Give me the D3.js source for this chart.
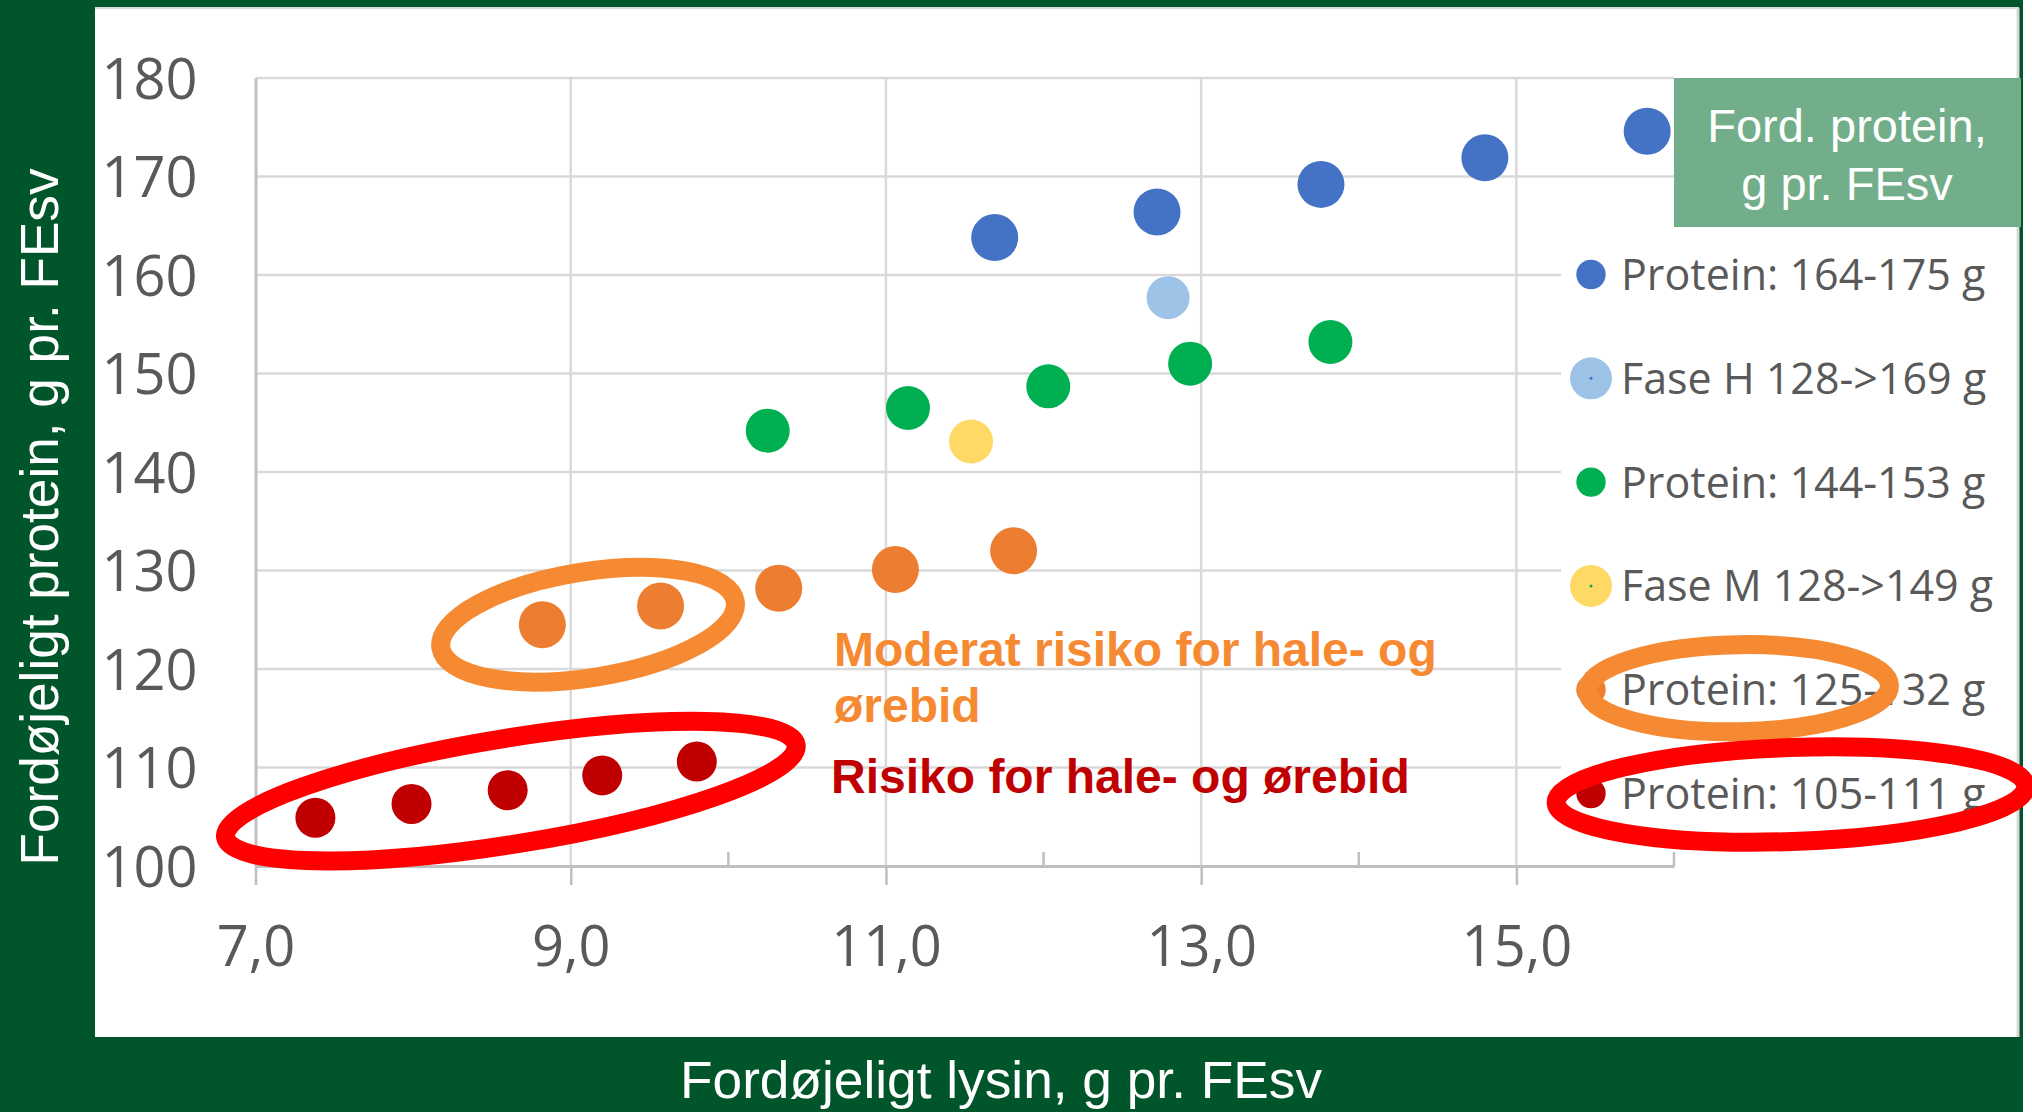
<!DOCTYPE html>
<html><head><meta charset="utf-8">
<script src="https://cdn.jsdelivr.net/npm/d3@7"></script>
<style>html,body{margin:0;padding:0;background:#fff;overflow:hidden}</style>
</head><body><svg id="c" width="2032" height="1112"></svg>
<script>
// ---------- data ----------
const seriesNames = ["Protein: 164-175 g","Fase H 128->169 g","Protein: 144-153 g","Fase M 128->149 g","Protein: 125-132 g","Protein: 105-111 g"];
const seriesColors = ["#4472C4","#9DC3E6","#00B050","#FFD966","#ED7D31","#C00000"];
const blueLysin = [11.69, 12.72, 13.76, 14.80, 15.83];
const blueProtein = [163.8, 166.4, 169.2, 171.9, 174.6];
const faseHLysin = [12.79];
const faseHProtein = [157.7];
const greenLysin = [10.25, 11.14, 12.03, 12.93, 13.82];
const greenProtein = [144.2, 146.5, 148.7, 151.0, 153.2];
const faseMLysin = [11.54];
const faseMProtein = [143.1];
const orangeLysin = [8.82, 9.57, 10.32, 11.06, 11.81];
const orangeProtein = [124.5, 126.4, 128.2, 130.1, 132.0];
const redLysin = [7.38, 7.99, 8.60, 9.20, 9.80];
const redProtein = [104.9, 106.3, 107.7, 109.2, 110.6];
const xTickValues = [7, 9, 11, 13, 15];
const xTickLabels = ["7,0", "9,0", "11,0", "13,0", "15,0"];
const xMinorTicks = [8, 10, 12, 14, 16];
const yTickValues = [100, 110, 120, 130, 140, 150, 160, 170, 180];
const xTitle = "Fordøjeligt lysin, g pr. FEsv";
const yTitle = "Fordøjeligt protein, g pr. FEsv";
const legendTitle = ["Ford. protein,", "g pr. FEsv"];
const noteModerate = ["Moderat risiko for hale- og", "ørebid"];
const noteRisk = "Risiko for hale- og ørebid";
// annotation ellipse centres in data units (lysin, protein)
const moderateCircle = [9.11, 124.5];
const riskCircle = [8.62, 107.6];

// ---------- setup ----------
const W = 2032, H = 1112;
const svg = d3.select("#c");
const GREEN = "#01552A", GRID = "#D9D9D9", AXIS = "#BFBFBF", TXT = "#595959";
const x = d3.scaleLinear().domain([7, 16]).range([255.5, 1674]);
const y = d3.scaleLinear().domain([100, 180]).range([866, 78]);

const seriesXs = [blueLysin, faseHLysin, greenLysin, faseMLysin, orangeLysin, redLysin];
const seriesYs = [blueProtein, faseHProtein, greenProtein, faseMProtein, orangeProtein, redProtein];
const markerR = [23.5, 21.5, 22, 22, 23.5, 20];
const legendR = [14.7, 21, 14.7, 21, 14.7, 14.7];
const series = seriesNames.map((n, i) => ({
  name: n, color: seriesColors[i], r: markerR[i], lr: legendR[i],
  pts: seriesXs[i].map((v, j) => ({x: v, y: seriesYs[i][j]}))
}));

// frame
svg.append("rect").attr("x", 0).attr("y", 0).attr("width", 2023).attr("height", H).attr("fill", GREEN);
svg.append("rect").attr("x", 95).attr("y", 7).attr("width", 1924).attr("height", 1030).attr("fill", "#fff");
svg.append("line").attr("x1", 95).attr("x2", 2019).attr("y1", 8).attr("y2", 8).attr("stroke", GRID).attr("stroke-width", 2);
svg.append("line").attr("x1", 2018).attr("x2", 2018).attr("y1", 8).attr("y2", 1037).attr("stroke", GRID).attr("stroke-width", 3);

// gridlines
svg.append("g").selectAll("line").data(yTickValues.filter(v => v !== 100)).join("line")
  .attr("x1", x(7)).attr("x2", x(16)).attr("y1", d => y(d)).attr("y2", d => y(d))
  .attr("stroke", GRID).attr("stroke-width", 2.5);
svg.append("g").selectAll("line").data(xTickValues.filter(v => v !== 7)).join("line")
  .attr("x1", d => x(d)).attr("x2", d => x(d)).attr("y1", y(180)).attr("y2", y(100))
  .attr("stroke", GRID).attr("stroke-width", 2.5);

// y axis
const gy = svg.append("g").attr("transform", `translate(${x(7)},0)`)
  .call(d3.axisLeft(y).tickValues(yTickValues).tickSize(0).tickPadding(58).tickFormat(d3.format("d")));
gy.select(".domain").attr("stroke", AXIS).attr("stroke-width", 3);
gy.selectAll("text").attr("font-family", "'Open Sans', sans-serif").attr("font-size", 56).attr("fill", TXT).attr("dy", "0.36em");

// x axis
const gx = svg.append("g").attr("transform", `translate(0,${y(100)})`)
  .call(d3.axisBottom(x).tickValues(xTickValues).tickFormat((d, i) => xTickLabels[i])
    .tickSizeInner(19).tickSizeOuter(0).tickPadding(41));
gx.select(".domain").attr("stroke", AXIS).attr("stroke-width", 3);
gx.selectAll(".tick line").attr("stroke", AXIS).attr("stroke-width", 2.5);
gx.selectAll("text").attr("font-family", "'Open Sans', sans-serif").attr("font-size", 56).attr("fill", TXT);
svg.append("g").selectAll("line").data(xMinorTicks).join("line")
  .attr("x1", d => x(d)).attr("x2", d => x(d)).attr("y1", y(100)).attr("y2", y(100) - 14)
  .attr("stroke", AXIS).attr("stroke-width", 2.5);

// axis titles
svg.append("text").attr("transform", `translate(58,517) rotate(-90)`)
  .attr("text-anchor", "middle").attr("font-family", "'Liberation Sans', Arial, sans-serif")
  .attr("font-size", 54).attr("fill", "#fff").attr("textLength", 697).attr("lengthAdjust", "spacingAndGlyphs")
  .text(yTitle);
svg.append("text").attr("x", 1001).attr("y", 1098)
  .attr("text-anchor", "middle").attr("font-family", "'Liberation Sans', Arial, sans-serif")
  .attr("font-size", 51).attr("fill", "#fff").attr("textLength", 642).attr("lengthAdjust", "spacingAndGlyphs")
  .text(xTitle);

// legend background + title box
svg.append("rect").attr("x", 1561).attr("y", 229).attr("width", 455).attr("height", 619).attr("fill", "#fff");
svg.append("rect").attr("x", 1674).attr("y", 78).attr("width", 347).attr("height", 149).attr("fill", "#72AE8A");
svg.append("g").selectAll("text").data(legendTitle).join("text")
  .attr("x", 1847).attr("y", (d, i) => 142 + i * 58).attr("text-anchor", "middle")
  .attr("font-family", "'Liberation Sans', Arial, sans-serif").attr("font-size", 47).attr("fill", "#fff")
  .text(d => d);

// data points
svg.append("g").selectAll("g").data(series).join("g")
  .selectAll("circle").data(s => s.pts.map(p => ({...p, s}))).join("circle")
  .attr("cx", d => x(d.x)).attr("cy", d => y(d.y)).attr("r", d => d.s.r).attr("fill", d => d.s.color);

// legend items
const rowY = i => 274.5 + i * 103.8;
const leg = svg.append("g").selectAll("g").data(series).join("g")
  .attr("transform", (d, i) => `translate(1591,${rowY(i)})`);
leg.append("circle").attr("r", d => d.lr).attr("fill", d => d.color);
leg.filter((d, i) => i === 1 || i === 3).append("circle").attr("r", 1.5)
  .attr("fill", (d, i) => i === 0 ? "#4472C4" : "#00B050");
leg.append("text").attr("x", 30).attr("y", 15.5)
  .attr("font-family", "'Open Sans', sans-serif").attr("font-size", 43).attr("fill", TXT)
  .text(d => d.name);

// annotation ellipses (hand-drawn highlight rings)
const ORANGE = "#F68A33", RED = "#FF0000";
const ring = (cx, cy, rx, ry, rot, col) => svg.append("ellipse")
  .attr("transform", `translate(${cx},${cy}) rotate(${rot})`)
  .attr("rx", rx).attr("ry", ry).attr("fill", "none").attr("stroke", col).attr("stroke-width", 19);
ring(x(moderateCircle[0]), y(moderateCircle[1]), 149, 53, -9, ORANGE);
ring(x(riskCircle[0]), y(riskCircle[1]), 289, 53, -9.2, RED);
ring(1738.5, rowY(4) - 1.5, 151, 43.5, -1, ORANGE);
ring(1791, rowY(5) + 1, 235, 47, -2, RED);

// annotation texts
svg.append("g").selectAll("text").data(noteModerate).join("text")
  .attr("x", 834).attr("y", (d, i) => 666 + i * 56)
  .attr("font-family", "'Liberation Sans', Arial, sans-serif").attr("font-weight", "bold")
  .attr("font-size", 48).attr("fill", ORANGE).text(d => d);
svg.append("text").attr("x", 831).attr("y", 793)
  .attr("font-family", "'Liberation Sans', Arial, sans-serif").attr("font-weight", "bold")
  .attr("font-size", 48).attr("fill", "#C00000").text(noteRisk);
</script></body></html>
